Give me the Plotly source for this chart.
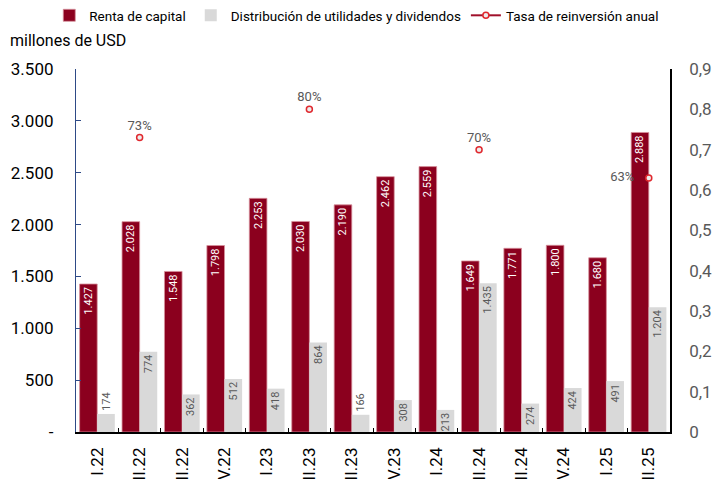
import plotly.graph_objects as go

categories = ["I.22", "II.22", "III.22", "IV.22", "I.23", "II.23", "III.23", "IV.23",
              "I.24", "II.24", "III.24", "IV.24", "I.25", "II.25"]
renta = [1427, 2028, 1548, 1798, 2253, 2030, 2190, 2462, 2559, 1649, 1771, 1800, 1680, 2888]
distrib = [174, 774, 362, 512, 418, 864, 166, 308, 213, 1435, 274, 424, 491, 1204]
tasa = [None, 0.73, None, None, None, 0.80, None, None, None, 0.70, None, None, None, 0.63]
tasa_labels = ["", "73%", "", "", "", "80%", "", "", "", "70%", "", "", "", "63%\u00a0\u00a0\u00a0"]
left_tickvals = [0, 500, 1000, 1500, 2000, 2500, 3000, 3500]
left_ticktext = ["-", "500", "1.000", "1.500", "2.000", "2.500", "3.000", "3.500"]
right_tickvals = [0, 0.1, 0.2, 0.3, 0.4, 0.5, 0.6, 0.7, 0.8, 0.9]
right_ticktext = ["0", "0,1", "0,2", "0,3", "0,4", "0,5", "0,6", "0,7", "0,8", "0,9"]

def fmt(v):
    return f"{v:,}".replace(",", ".")

DARK = "#8B001E"
LIGHT = "#D9D9D9"
FONT = "Roboto"

fig = go.Figure()
fig.add_trace(go.Bar(
    x=categories, y=renta, name="Renta de capital",
    marker=dict(color=DARK, line=dict(color="#D7909C", width=0.8)),
    text=[fmt(v) for v in renta], textposition="inside", insidetextanchor="end",
    textangle=-90, constraintext="none", cliponaxis=False,
    textfont=dict(color="white", size=11, family=FONT),
))
fig.add_trace(go.Bar(
    x=categories, y=distrib, name="Distribución de utilidades y dividendos",
    marker=dict(color=LIGHT, line=dict(width=0)),
    text=[fmt(v) for v in distrib],
    textposition=["outside" if v < 200 else "inside" for v in distrib],
    insidetextanchor="end",
    textangle=-90, constraintext="none", cliponaxis=False,
    textfont=dict(color="#595959", size=11, family=FONT),
))
fig.add_trace(go.Scatter(
    x=categories, y=tasa, name="Tasa de reinversión anual", yaxis="y2",
    mode="lines+markers+text", connectgaps=False, cliponaxis=False,
    line=dict(color="#A0102A", width=2),
    marker=dict(symbol="circle", size=6, color="#EDEDED", line=dict(color="#E0282E", width=1.5)),
    text=tasa_labels,
    textposition=["top center"] * 13 + ["middle left"],
    textfont=dict(color="#595959", size=13, family=FONT),
))

fig.update_layout(
    width=725, height=479,
    margin=dict(l=76, r=55, t=69, b=47, autoexpand=False),
    paper_bgcolor="white", plot_bgcolor="white",
    font=dict(family=FONT, color="black"),
    separators=",.",
    barmode="group", bargap=0.17, bargroupgap=0,
    showlegend=True,
    legend=dict(orientation="h", xref="paper", yref="paper",
                x=-0.045, y=1.19, xanchor="left", yanchor="top",
                font=dict(size=13.5, color="black", family=FONT),
                itemwidth=30, tracegroupgap=0, bgcolor="rgba(0,0,0,0)"),
    title=dict(text="millones de USD", xref="container", yref="container",
               x=10 / 725, y=1 - 40 / 479, xanchor="left", yanchor="middle",
               font=dict(size=16, color="black", family=FONT)),
    xaxis=dict(
        type="category", tickangle=-90, automargin=False,
        range=[-0.5, len(categories) - 0.5], autorange=False,
        showline=True, linecolor="black", linewidth=1.5,
        ticks="inside", tickson="boundaries", ticklen=4, tickcolor="black",
        tickfont=dict(size=17, color="black", family=FONT),
        ticklabelstandoff=7, showgrid=False,
    ),
    yaxis=dict(
        range=[0, 3500], tickvals=left_tickvals, ticktext=left_ticktext,
        showline=True, linecolor="#2E4A86", linewidth=1.2,
        ticks="inside", ticklen=5, tickcolor="#2E4A86",
        tickfont=dict(size=17, color="black", family=FONT),
        ticklabelstandoff=18, showgrid=False, zeroline=False, automargin=False,
    ),
    yaxis2=dict(
        range=[0, 0.9], tickvals=right_tickvals, ticktext=right_ticktext,
        overlaying="y", side="right",
        showline=True, linecolor="black", linewidth=1.5, ticks="",
        tickfont=dict(size=17, color="#595959", family=FONT),
        ticklabelstandoff=14, showgrid=False, zeroline=False, automargin=False,
    ),
)

fig.write_html("out.html", config={"displayModeBar": False},
               post_script="document.body.style.margin='0';")
